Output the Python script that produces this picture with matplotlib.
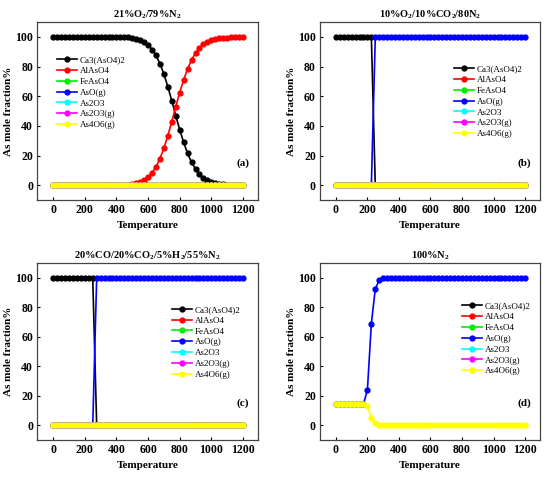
import numpy as np
import matplotlib
matplotlib.use('Agg')
import matplotlib.pyplot as plt

plt.rcParams['font.family'] = ['Liberation Serif', 'DejaVu Serif']
plt.rcParams['mathtext.fontset'] = 'custom'
plt.rcParams['mathtext.rm'] = 'Liberation Serif:bold'
plt.rcParams['mathtext.it'] = 'Liberation Serif:bold'
plt.rcParams['mathtext.bf'] = 'Liberation Serif:bold'

# temperature grid (step 25)
temperature = np.arange(0, 1225, 25)
n = len(temperature)

species = ['Ca3(AsO4)2', 'AlAsO4', 'FeAsO4', 'AsO(g)', 'As2O3', 'As2O3(g)', 'As4O6(g)']
colors = ['#000000', '#ff0000', '#00ee00', '#0000ff', '#00ffff', '#ff00ff', '#ffff00']

titles = [r'21%O$_2$/79%N$_2$', r'10%O$_2$/10%CO$_2$/80N$_2$',
          r'20%CO/20%CO$_2$/5%H$_2$/55%N$_2$', r'100%N$_2$']
panel_tags = ['(a)', '(b)', '(c)', '(d)']

zeros = [0.0] * n
empty = [np.nan] * n

# (a) 21%O2/79%N2
a_ca3 = [100.0] * 17 + [99.9, 99.8, 99.6, 99.2, 98.7, 97.8, 96.5, 94.5, 91.5, 87.5,
                        82.0, 75.0, 66.5, 57.0, 47.0, 37.5, 29.0, 21.5, 15.5, 11.0,
                        7.5, 5.0, 3.5, 2.3, 1.5, 1.0, 0.7, 0.45, 0.3, 0.2, 0.13, 0.08]
a_alaso4 = [0.0] * 17 + [0.1, 0.2, 0.4, 0.8, 1.3, 2.2, 3.5, 5.5, 8.5, 12.5,
                         18.0, 25.0, 33.5, 43.0, 53.0, 62.5, 71.0, 78.5, 84.5, 89.0,
                         92.5, 95.0, 96.5, 97.7, 98.5, 99.0, 99.3, 99.55, 99.7, 99.8, 99.87, 99.92]

# (b) 10%O2/10%CO2/80N2
b_ca3 = [100.0] * 10 + [0.0] * 39
b_aso = [0.0] * 10 + [100.0] * 39

# (c) 20%CO/20%CO2/5%H2/55%N2
c_ca3 = [100.0] * 11 + [0.0] * 38
c_aso = [0.0] * 11 + [100.0] * 38

# (d) 100%N2
d_aso = [14.5] * 8 + [24.0, 69.0, 92.5, 98.3, 99.5, 99.9] + [100.0] * 35
d_as4o6 = [14.5] * 8 + [13.0, 5.0, 1.5, 0.4, 0.1] + [0.0] * 36

panels = [
    [a_ca3, a_alaso4, zeros, zeros, zeros, zeros, zeros],
    [b_ca3, zeros, zeros, b_aso, zeros, zeros, zeros],
    [c_ca3, zeros, zeros, c_aso, zeros, zeros, zeros],
    [empty, empty, empty, d_aso, empty, empty, d_as4o6],
]

axes_pos = [[0.068, 0.582, 0.401, 0.372],
            [0.582, 0.582, 0.400, 0.372],
            [0.068, 0.081, 0.401, 0.370],
            [0.582, 0.081, 0.400, 0.370]]
legend_anchor = [(0.09, 0.81), (0.61, 0.76), (0.61, 0.76), (0.645, 0.78)]

fig = plt.figure(figsize=(5.5, 4.79), dpi=100)

for k in range(4):
    ax = fig.add_axes(axes_pos[k])
    for s, name in enumerate(species):
        ax.plot(temperature, panels[k][s], color=colors[s], marker='o',
                markersize=3.5, linewidth=1.2, label=name)
    ax.set_xlim(-100, 1295)
    ax.set_ylim(-10, 110)
    ax.set_xticks(range(0, 1201, 200))
    ax.set_yticks(range(0, 101, 20))
    ax.tick_params(direction='in', length=2.5, width=0.8, labelsize=8.5, pad=3)
    for lab in ax.get_xticklabels() + ax.get_yticklabels():
        lab.set_fontweight('bold')
    for sp in ax.spines.values():
        sp.set_color('#444444')
        sp.set_linewidth(0.9)
    ax.set_xlabel('Temperature', fontsize=8, fontweight='bold', labelpad=3)
    ax.set_ylabel('As mole fraction%', fontsize=8, fontweight='bold', labelpad=1.5)
    ax.set_title(titles[k], fontsize=7.5, fontweight='bold', pad=3)
    ax.text(0.96, 0.21, panel_tags[k], transform=ax.transAxes, ha='right',
            va='center', fontsize=8, fontweight='bold')
    ax.legend(loc='upper left', bbox_to_anchor=legend_anchor[k], frameon=False,
              fontsize=6.5, handlelength=2.2, handletextpad=0.3, labelspacing=0.28,
              borderpad=0, borderaxespad=0, numpoints=1, markerscale=1.0)

fig.savefig('out.png', dpi=100)
